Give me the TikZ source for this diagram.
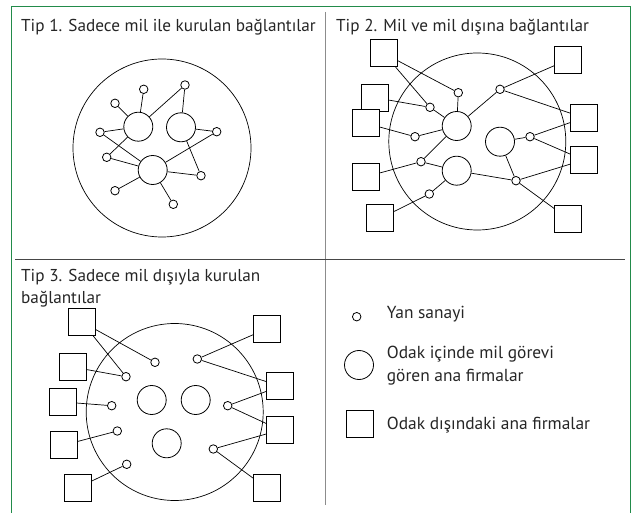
\documentclass[tikz,border=0pt]{standalone}
\usepackage{fontspec}
\setmainfont{PT Sans}
\definecolor{framegreen}{RGB}{34,139,74}
\definecolor{rulegray}{RGB}{70,70,70}
\definecolor{rulegraylight}{RGB}{140,140,140}
\begin{document}
\begin{tikzpicture}
		[x=1pt,y=-1pt,
		yan/.style={circle,draw,line width=0.8pt,fill=white,inner sep=0pt,minimum size=8.5pt},
		mil/.style={circle,draw,line width=0.8pt,fill=white,inner sep=0pt,minimum size=29pt},
		firma/.style={rectangle,draw,line width=0.8pt,fill=white,inner sep=0pt,minimum size=27pt},
		titlestyle/.style={anchor=base west,inner sep=0pt,font=\fontsize{17.2}{20}\selectfont,text=black!85},
		legendstyle/.style={anchor=base west,inner sep=0pt,font=\fontsize{17.4}{20}\selectfont,text=black!85},
		bigcircle/.style={line width=0.7pt},
		edgestyle/.style={-,line width=0.7pt}]
		\useasboundingbox (0,0) rectangle (635,513);
		\draw[framegreen,line width=0.9pt] (11,513) -- (11,6) -- (630,6) -- (630,513);
		\draw[rulegraylight,line width=1pt] (325,12) -- (325,505);
		\draw[rulegray,line width=0.9pt] (15,259.5) -- (625,259.5);
		\node at (21,32) (t1) [titlestyle] {Tip 1. Sadece mil ile kurulan bağlantılar};
		\draw[bigcircle] (162,148) circle [radius=89];
		\node at (138.3,126.7) (m11) [mil] {};
		\node at (181,127.3) (m12) [mil] {};
		\node at (152.7,170) (m13) [mil] {};
		\node at (143.7,89.3) (y11) [yan] {}
			edge [edgestyle] (m11);
		\node at (185,85) (y12) [yan] {}
			edge [edgestyle] (m11)
			edge [edgestyle] (m12);
		\node at (115,103.3) (y13) [yan] {}
			edge [edgestyle] (m11);
		\node at (100,132.3) (y14) [yan] {}
			edge [edgestyle] (m11)
			edge [edgestyle] (m13);
		\node at (106.7,157.3) (y15) [yan] {}
			edge [edgestyle] (m11)
			edge [edgestyle] (m13);
		\node at (216.7,131.7) (y16) [yan] {}
			edge [edgestyle] (m12)
			edge [edgestyle] (m13);
		\node at (201,175.7) (y17) [yan] {}
			edge [edgestyle] (m12)
			edge [edgestyle] (m13);
		\node at (115,190.7) (y18) [yan] {}
			edge [edgestyle] (m13);
		\node at (173.3,204.3) (y19) [yan] {}
			edge [edgestyle] (m13);
		\node at (336,32) (t2) [titlestyle] {Tip 2. Mil ve mil dışına bağlantılar};
		\draw[bigcircle] (477.3,141.5) circle [radius=88.5];
		\node at (456.7,126) (m21) [mil] {};
		\node at (500,141.7) (m22) [mil] {};
		\node at (456.7,170.7) (m23) [mil] {};
		\node at (458.3,92.7) (y21) [yan] {}
			edge [edgestyle] (m21);
		\node at (430,107.3) (y22) [yan] {}
			edge [edgestyle] (m21);
		\node at (415,136.7) (y23) [yan] {}
			edge [edgestyle] (m21);
		\node at (421,161.7) (y24) [yan] {}
			edge [edgestyle] (m21)
			edge [edgestyle] (m23);
		\node at (429.3,194) (y25) [yan] {}
			edge [edgestyle] (m23);
		\node at (500,89.3) (y26) [yan] {}
			edge [edgestyle] (m21);
		\node at (530,136.7) (y27) [yan] {}
			edge [edgestyle] (m22);
		\node at (516,180.7) (y28) [yan] {}
			edge [edgestyle] (m22)
			edge [edgestyle] (m23);
		\node at (383.8,53.3) (f21) [firma] {}
			edge [edgestyle] (y21)
			edge [edgestyle] (y22);
		\node at (375.3,97.7) (f22) [firma] {}
			edge [edgestyle] (y22);
		\node at (366.2,123.3) (f23) [firma] {}
			edge [edgestyle] (y23);
		\node at (366.2,176.7) (f24) [firma] {}
			edge [edgestyle] (y24);
		\node at (380.3,218.3) (f25) [firma] {}
			edge [edgestyle] (y25);
		\node at (568,59.7) (f26) [firma] {}
			edge [edgestyle] (y26);
		\node at (583.8,117.8) (f27) [firma] {}
			edge [edgestyle] (y26)
			edge [edgestyle] (y27);
		\node at (583.8,160) (f28) [firma] {}
			edge [edgestyle] (y27)
			edge [edgestyle] (y28);
		\node at (568.3,218.8) (f29) [firma] {}
			edge [edgestyle] (y28);
		\node at (21,281.7) (t3) [titlestyle] {Tip 3. Sadece mil dışıyla kurulan};
		\node at (21,303.5) (t3b) [titlestyle] {bağlantılar};
		\draw[bigcircle] (174.7,412) circle [radius=88.5];
		\node at (151.7,400) (m31) [mil] {};
		\node at (195.7,400) (m32) [mil] {};
		\node at (166.7,443.3) (m33) [mil] {};
		\node at (155,362.3) (y31) [yan] {};
		\node at (126,376.7) (y32) [yan] {};
		\node at (111.7,405.7) (y33) [yan] {};
		\node at (117.3,431) (y34) [yan] {};
		\node at (126.7,464.3) (y35) [yan] {};
		\node at (197.3,359) (y36) [yan] {};
		\node at (227.7,405.7) (y37) [yan] {};
		\node at (213.3,449) (y38) [yan] {};
		\node at (82,322) (f31) [firma] {}
			edge [edgestyle] (y31)
			edge [edgestyle] (y32);
		\node at (72.5,367) (f32) [firma] {}
			edge [edgestyle] (y32);
		\node at (63.3,402) (f33) [firma] {}
			edge [edgestyle] (y33);
		\node at (64.2,445) (f34) [firma] {}
			edge [edgestyle] (y34);
		\node at (77.8,487.7) (f35) [firma] {}
			edge [edgestyle] (y35);
		\node at (267,328.7) (f36) [firma] {}
			edge [edgestyle] (y36);
		\node at (280.3,386.2) (f37) [firma] {}
			edge [edgestyle] (y36)
			edge [edgestyle] (y37);
		\node at (280.3,430) (f38) [firma] {}
			edge [edgestyle] (y37)
			edge [edgestyle] (y38);
		\node at (267,488.3) (f39) [firma] {}
			edge [edgestyle] (y38);
		\node at (356.7,316.7) (ly) [yan] {};
		\node at (386.7,319) (lyt) [legendstyle] {Yan sanayi};
		\node at (359,365) (lm) [mil] {};
		\node at (386.7,358.3) (lmt) [legendstyle] {Odak içinde mil görevi};
		\node at (386.7,381.7) (lmt2) [legendstyle] {gören ana firmalar};
		\node at (359.5,424.2) (lf) [firma] {};
		\node at (386.7,429.3) (lft) [legendstyle] {Odak dışındaki ana firmalar};
\end{tikzpicture}
\end{document}
